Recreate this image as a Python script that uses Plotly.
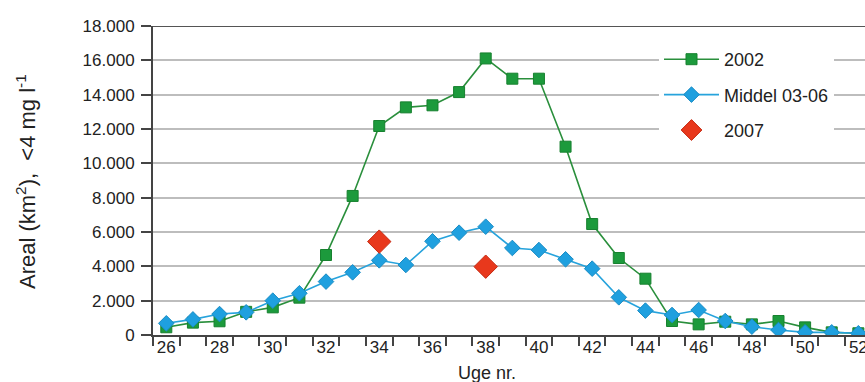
import plotly.graph_objects as go

weeks = list(range(26, 53))
y2002 = [450, 720, 800, 1350, 1610, 2175, 4660, 8100, 12175, 13260, 13380, 14150, 16110,
         14930, 14930, 10970, 6465, 4485, 3280, 815, 620, 775, 620, 815, 445, 155, 100]
middel = [680, 910, 1220, 1320, 2000, 2430, 3110, 3650, 4350, 4080, 5460, 5960, 6310,
          5070, 4950, 4410, 3865, 2195, 1420, 1165, 1455, 815, 485, 290, 155, 155, 100]
weeks2007 = [34, 38]
y2007 = [5440, 3980]

ytick_vals = list(range(0, 18001, 2000))
ytick_text = ["0"] + [f"{v // 1000}.000" for v in ytick_vals[1:]]
xtick_vals = list(range(26, 53, 2))

FONT = "Arial, Liberation Sans, sans-serif"
L, R, T, B = 153, 0, 26, 47
W, H = 865, 382
plot_w = W - L - R
plot_h = H - T - B

fig = go.Figure()
fig.add_trace(go.Scatter(
    x=weeks, y=y2002, name="2002", mode="lines+markers", legendgroup="a",
    line=dict(color="#2a8f3c", width=1.6),
    marker=dict(symbol="square", size=11, color="#1c9a3c", line=dict(color="#17812f", width=1)),
))
fig.add_trace(go.Scatter(
    x=weeks, y=middel, name="Middel 03-06", mode="lines+markers", legendgroup="b",
    line=dict(color="#27a3dc", width=1.6),
    marker=dict(symbol="diamond", size=12, color="#1fa0df", line=dict(color="#1a8cc4", width=1)),
))
fig.add_trace(go.Scatter(
    x=weeks2007, y=y2007, name="2007", mode="markers", legendgroup="c",
    marker=dict(symbol="diamond", size=18, color="#e8381c", line=dict(color="#c52a12", width=1)),
))

fig.update_layout(
    width=W, height=H,
    margin=dict(l=L, r=R, t=T, b=B, autoexpand=False),
    paper_bgcolor="white", plot_bgcolor="white",
    font=dict(family=FONT, size=17, color="#222"),
    showlegend=True,
    legend=dict(
        x=(659 - L) / plot_w, y=1.0 - 15 / plot_h, xanchor="left", yanchor="top",
        bgcolor="white", borderwidth=0,
        font=dict(size=18, color="#222"),
        tracegroupgap=9, itemwidth=55,
    ),
    xaxis=dict(
        range=[25.5, 52.25], tickmode="array", tickvals=xtick_vals,
        ticks="", showgrid=False, zeroline=False,
        showline=True, linecolor="#444", linewidth=2,
        tickfont=dict(size=17, color="#222"),
        minor=dict(ticks="outside", tick0=25.5, dtick=1, ticklen=9, tickcolor="#444",
                   tickwidth=1.5, showgrid=False),
        ticklabelstandoff=-4, ticklabeloverflow="allow",
    ),
    yaxis=dict(
        range=[0, 18000], tickmode="array", tickvals=ytick_vals, ticktext=ytick_text,
        ticks="outside", ticklen=10, tickcolor="#444", tickwidth=1.5,
        showgrid=True, gridcolor="#bdbdbd", gridwidth=2,
        zeroline=False, showline=True, linecolor="#444", linewidth=2,
        tickfont=dict(size=17, color="#222"), ticklabelstandoff=3,
    ),
    annotations=[
        dict(text="Uge nr.", xref="paper", yref="paper",
             x=(487 - L) / plot_w, y=-(373 - (H - B)) / plot_h,
             xanchor="center", yanchor="middle", showarrow=False,
             font=dict(size=18, color="#222")),
        dict(text="Areal (km<sup>2</sup>),  <4 mg l<sup>-1</sup>", textangle=-90,
             xref="paper", yref="paper", x=-(L - 26) / plot_w, y=(335 - 182) / plot_h,
             xanchor="center", yanchor="middle",
             showarrow=False, font=dict(size=22, color="#222")),
    ],
    shapes=[
        dict(type="line", xref="paper", yref="y", x0=0, x1=1, y0=18000, y1=18000,
             line=dict(color="#555", width=2), layer="below"),
    ],
)

fig.write_html("out.html", config={"displayModeBar": False},
               post_script="document.body.style.margin='0';document.body.style.overflow='hidden';")
